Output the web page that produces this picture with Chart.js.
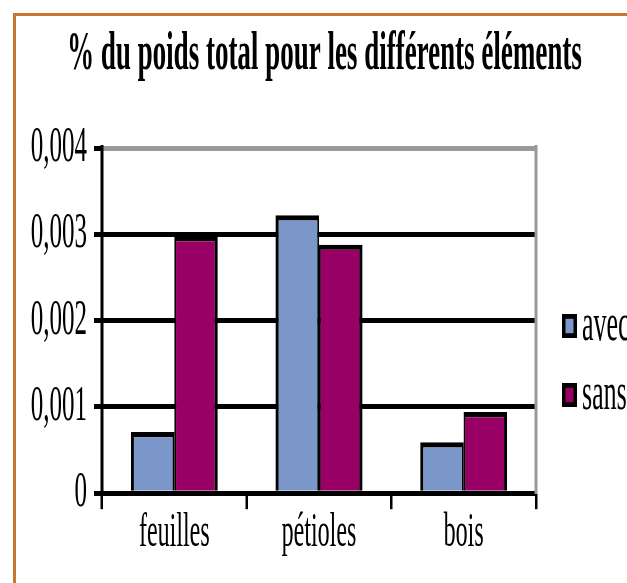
<!DOCTYPE html>
<html lang="fr">
<head>
  <meta charset="UTF-8" />
  <title>% du poids total pour les différents éléments</title>
  <script src="https://cdn.jsdelivr.net/npm/chart.js"></script>
  <style>
    html { overflow: hidden; }
    body { margin: 0; padding: 0; background: #fff; width: 627px; height: 583px; }
    /* the original picture is stretched vertically, so draw at half height and stretch */
    #wrap { width: 627px; height: 292px; transform: scaleY(2); transform-origin: 0 0; }
  </style>
</head>
<body>
<div id="wrap">
  <canvas id="chart" width="627" height="292" style="width:627px;height:292px"></canvas>
</div>

<script>
  const titleText = '% du poids total pour les différents éléments';
  const categories = ['feuilles', 'pétioles', 'bois'];
  const seriesNames = ['avec', 'sans'];
  const avec = [0.00071, 0.00322, 0.00059];
  const sans = [0.00298, 0.00288, 0.00094];
  const yTickLabels = ['0', '0,001', '0,002', '0,003', '0,004'];

  const serif = "'Liberation Serif', 'Times New Roman', serif";

  // orange page frame (top and left)
  const frame = {
    id: 'frame',
    beforeDraw(chart) {
      const ctx = chart.ctx;
      ctx.save();
      ctx.fillStyle = '#fff';
      ctx.fillRect(0, 0, chart.width, chart.height);
      ctx.strokeStyle = '#c8772f';
      ctx.lineWidth = 1.5;
      ctx.beginPath(); ctx.moveTo(13, 7.3); ctx.lineTo(chart.width, 7.3); ctx.stroke();
      ctx.lineWidth = 3;
      ctx.beginPath(); ctx.moveTo(14.5, 6.6); ctx.lineTo(14.5, chart.height); ctx.stroke();
      ctx.restore();
    }
  };

  // legend on the right, boxes with thick black outline
  const sideLegend = {
    id: 'sideLegend',
    afterDraw(chart, args, opts) {
      const ctx = chart.ctx;
      ctx.save();
      ctx.font = opts.size + 'px ' + serif;
      ctx.textBaseline = 'middle';
      chart.data.datasets.forEach((ds, i) => {
        const y = opts.top + i * opts.gap;
        ctx.fillStyle = '#000';
        ctx.fillRect(opts.left, y - 6, 15, 12);
        ctx.fillStyle = ds.backgroundColor;
        ctx.fillRect(opts.left + 3.5, y - 3.6, 8, 7.2);
        ctx.fillStyle = '#000';
        ctx.fillText(ds.label, opts.left + 20, y);
      });
      ctx.restore();
    }
  };

  new Chart(document.getElementById('chart'), {
    type: 'bar',
    data: {
      labels: categories,
      datasets: [
        {
          label: seriesNames[0],
          data: avec,
          backgroundColor: '#7b96c9',
          borderColor: '#000',
          borderWidth: { top: 2.6, left: 3, right: 1.7, bottom: 0 },
          categoryPercentage: 0.6,
          barPercentage: 1
        },
        {
          label: seriesNames[1],
          data: sans,
          backgroundColor: '#990066',
          borderColor: '#000',
          borderWidth: { top: 2.6, left: 1.7, right: 3, bottom: 0 },
          categoryPercentage: 0.6,
          barPercentage: 1
        }
      ]
    },
    options: {
      responsive: false,
      devicePixelRatio: 2,
      animation: false,
      layout: { padding: { left: 22, right: 0, top: 0, bottom: 0 } },
      plugins: {
        legend: { display: false },
        tooltip: { enabled: false },
        title: {
          display: true,
          text: titleText,
          color: '#000',
          font: { family: serif, size: 27, weight: 'bold', lineHeight: 1.2 },
          padding: { top: 11.2, bottom: 30.4 }
        },
        sideLegend: { left: 562, top: 163, gap: 34.5, size: 26 }
      },
      scales: {
        x: {
          offset: true,
          afterFit: s => { s.height = 45.4; },
          ticks: { padding: 0, color: '#000', font: { family: serif, size: 24, lineHeight: 1 } },
          grid: { offset: true, drawOnChartArea: false, drawTicks: true, tickLength: 8, color: '#000', lineWidth: 2.5 },
          border: { display: true, color: '#000', width: 2.5 }
        },
        y: {
          min: 0,
          max: 0.004,
          afterFit: s => { s.width = 80; },
          ticks: {
            stepSize: 0.001,
            padding: 7,
            color: '#000',
            font: { family: serif, size: 25 },
            callback: (v, i) => yTickLabels[i]
          },
          grid: {
            color: c => c.index === yTickLabels.length - 1 ? '#999' : '#000',
            tickColor: '#000',
            lineWidth: 2.5,
            tickLength: 8
          },
          border: { display: true, color: '#000', width: 3 }
        },
        y2: {
          position: 'right',
          afterFit: s => { s.width = 91; },
          ticks: { display: false },
          grid: { drawOnChartArea: false, drawTicks: false },
          border: { display: true, color: '#999', width: 3 }
        }
      }
    },
    plugins: [frame, sideLegend]
  });
</script>
</body>
</html>
